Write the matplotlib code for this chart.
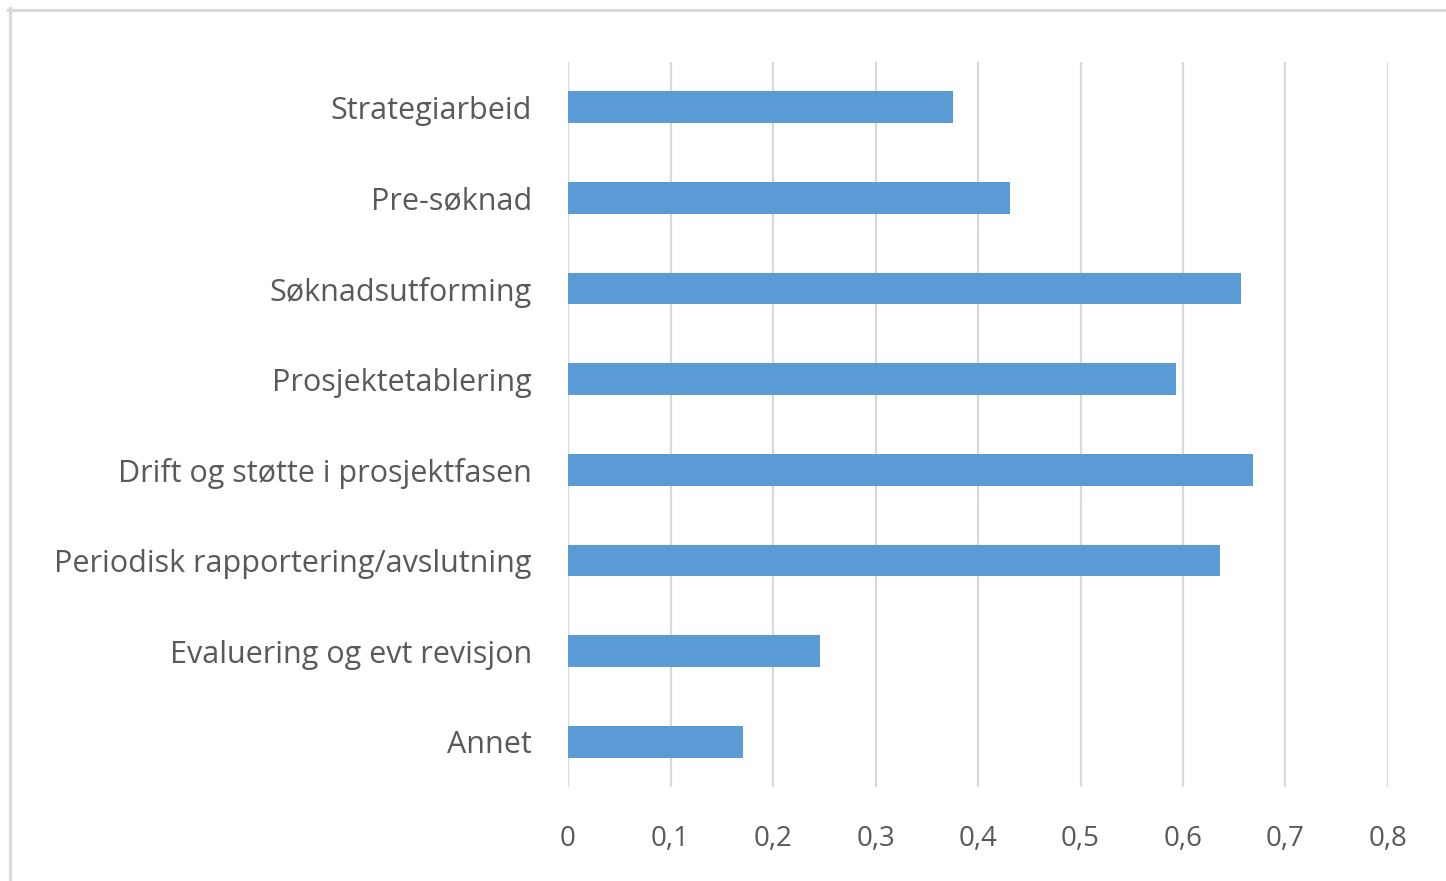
import matplotlib
matplotlib.use("Agg")
import matplotlib.pyplot as plt
from matplotlib.lines import Line2D

# data (top to bottom as in the chart)
categories = [
    "Strategiarbeid",
    "Pre-søknad",
    "Søknadsutforming",
    "Prosjektetablering",
    "Drift og støtte i prosjektfasen",
    "Periodisk rapportering/avslutning",
    "Evaluering og evt revisjon",
    "Annet",
]
values = [0.376, 0.431, 0.657, 0.593, 0.668, 0.636, 0.246, 0.171]
xticks = [0, 0.1, 0.2, 0.3, 0.4, 0.5, 0.6, 0.7, 0.8]
xticklabels = ["0", "0,1", "0,2", "0,3", "0,4", "0,5", "0,6", "0,7", "0,8"]

TXT = "#595959"
GRID = "#d9d9d9"
BAR = "#5b9bd5"

W, H = 1446, 881
fig = plt.figure(figsize=(W / 100, H / 100), dpi=100)
fig.patch.set_facecolor("white")

# plot area in pixel coords
x0, x1 = 568, 1388
y0, y1 = 62, 787
ax = fig.add_axes([x0 / W, 1 - y1 / H, (x1 - x0) / W, (y1 - y0) / H])

pos = list(range(len(categories)))[::-1]
ax.barh(pos, values, height=0.35, color=BAR, zorder=3)

ax.set_xlim(0, 0.8)
ax.set_ylim(-0.5, len(categories) - 0.5)
ax.set_xticks(xticks)
ax.set_xticklabels(xticklabels)
ax.set_yticks(pos)
ax.set_yticklabels(categories)

ax.grid(axis="x", color=GRID, linewidth=1.6, zorder=0)
ax.grid(axis="y", visible=False)
for s in ax.spines.values():
    s.set_visible(False)

ax.tick_params(axis="both", length=0, colors=TXT)
ax.tick_params(axis="y", pad=26, labelsize=22)
ax.tick_params(axis="x", pad=27, labelsize=20)
for lbl in ax.get_xticklabels() + ax.get_yticklabels():
    lbl.set_fontfamily("Open Sans")
    lbl.set_color(TXT)

# outer chart border (top and left visible)
fig.add_artist(Line2D([8 / W, 1], [1 - 9.5 / H, 1 - 9.5 / H], color=GRID, linewidth=2.3))
fig.add_artist(Line2D([10 / W, 10 / W], [0, 1 - 8 / H], color=GRID, linewidth=2.3))

fig.savefig("out.png", dpi=100)
